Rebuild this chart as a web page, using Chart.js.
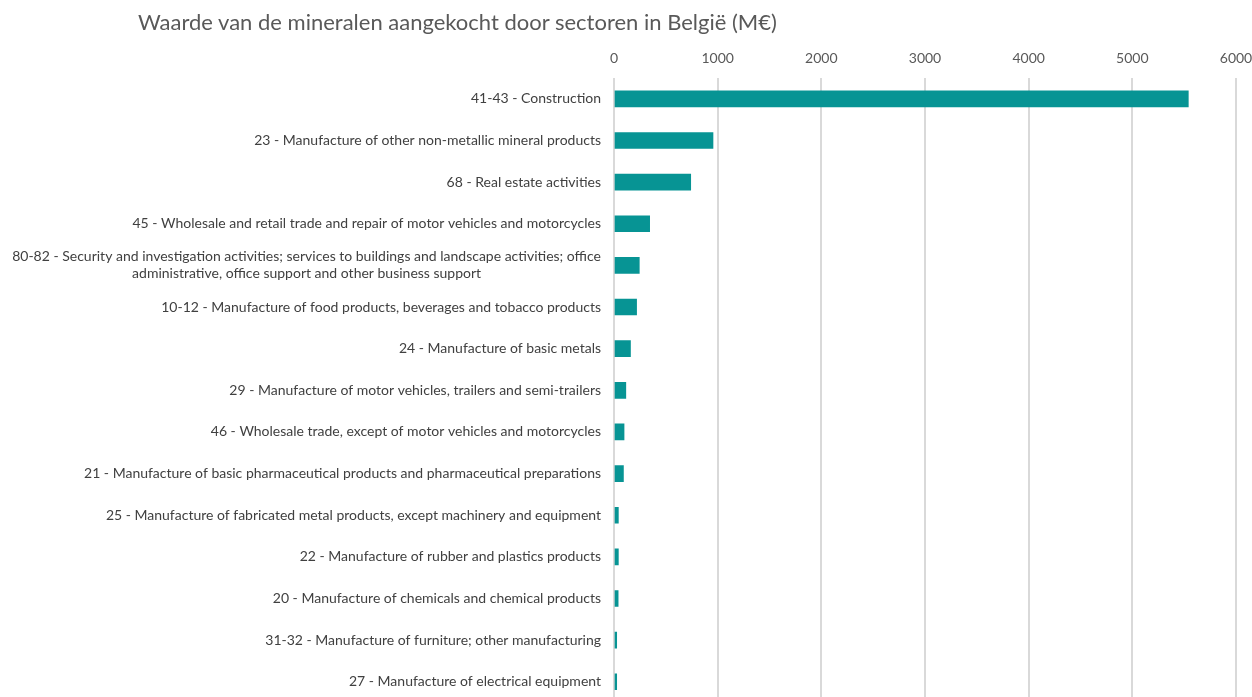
<!DOCTYPE html>
<html>
<head>
<meta charset="utf-8">
<script src="https://cdn.jsdelivr.net/npm/chart.js@4"></script>
<style>

    html, body{
        margin:0;
        padding:0;
        background:#ffffff;
        overflow:hidden;
    }

    .wrap{
        position:relative;
        width:1252px;
        height:724px;
    }

    .wrap canvas{
        display:block;
    }

    .title{
        position:absolute;
        left:138px;
        top:8px;
        margin:0;
        font-family:Lato, sans-serif;
        font-weight:400;
        font-size:22px;
        color:#595959;
        white-space:nowrap;
    }

</style>
</head>
<body>

<div class="wrap">

    <h1 class="title">Waarde van de mineralen aangekocht door sectoren in België (M€)</h1>

    <canvas id="mineralsChart" width="1252" height="724"></canvas>

</div>

<script>

/* =====================================================
   MINERALS BY SECTOR
===================================================== */

const sectors = [
    "41-43 - Construction",
    "23 - Manufacture of other non-metallic mineral products",
    "68 - Real estate activities",
    "45 - Wholesale and retail trade and repair of motor vehicles and motorcycles",
    [
        "80-82 - Security and investigation activities; services to buildings and landscape activities; office",
        "administrative, office support and other business support"
    ],
    "10-12 - Manufacture of food products, beverages and tobacco products",
    "24 - Manufacture of basic metals",
    "29 - Manufacture of motor vehicles, trailers and semi-trailers",
    "46 - Wholesale trade, except of motor vehicles and motorcycles",
    "21 - Manufacture of basic pharmaceutical products and pharmaceutical preparations",
    "25 - Manufacture of fabricated metal products, except machinery and equipment",
    "22 - Manufacture of rubber and plastics products",
    "20 - Manufacture of chemicals and chemical products",
    "31-32 - Manufacture of furniture; other manufacturing",
    "27 - Manufacture of electrical equipment"
];

const valuesMEUR = [
    5540, 955, 740, 344, 244,
    218, 159, 114, 97, 91,
    42, 42, 40, 26, 26
];

const xTicks = [0, 1000, 2000, 3000, 4000, 5000, 6000];

const labelFont = { family:"Lato", size:14 };


/* =========================
   WRAPPED LABEL CENTERING
   (multi-line labels: centre the lines under the first one)
========================= */

const centerWrappedLabels = {

    id:"centerWrappedLabels",

    beforeDraw(chart){

        const scale = chart.scales.y;
        const items = scale.getLabelItems();
        const ctx = chart.ctx;

        items.forEach(item => {

            if(!Array.isArray(item.label)) return;

            ctx.save();
            ctx.font = item.font.string;
            const w = ctx.measureText(item.label[0]).width;
            ctx.restore();

            item.options.textAlign = "center";
            item.options.translation = [
                item.options.translation[0] - w / 2,
                item.options.translation[1]
            ];

        });

    }

};


/* =========================
   CHART
========================= */

function renderMineralsChart(){

    const canvas =
    document.getElementById(
        "mineralsChart"
    );

    new Chart(canvas,{

        type:"bar",

        data:{

            labels:sectors,

            datasets:[{

                label:"M€",

                data:valuesMEUR,

                backgroundColor:"#079494",

                borderWidth:0,

                barThickness:16

            }]

        },

        options:{

            responsive:false,

            animation:false,

            indexAxis:"y",

            layout:{
                padding:0
            },

            plugins:{

                legend:{
                    display:false
                },

                tooltip:{
                    enabled:false
                }

            },

            scales:{

                x:{

                    position:"top",

                    min:0,

                    max:6000,

                    afterFit:scale => {
                        scale.height = 78;
                        scale.paddingLeft = 0;
                        scale.paddingRight = 16;
                    },

                    afterBuildTicks:scale => {
                        scale.ticks = xTicks.map(v => ({ value:v }));
                    },

                    border:{
                        display:false
                    },

                    grid:{
                        color:"#d9d9d9",
                        lineWidth:2,
                        drawTicks:false
                    },

                    ticks:{
                        padding:11,
                        color:"#595959",
                        font:labelFont,
                        callback:value => String(value)
                    }

                },

                y:{

                    afterFit:scale => {
                        scale.width = 614;
                    },

                    border:{
                        display:false
                    },

                    grid:{
                        display:false,
                        drawTicks:false
                    },

                    ticks:{
                        padding:13,
                        color:"#404040",
                        font:labelFont
                    }

                }

            }

        },

        plugins:[centerWrappedLabels]

    });

}

renderMineralsChart();

</script>

</body>
</html>
